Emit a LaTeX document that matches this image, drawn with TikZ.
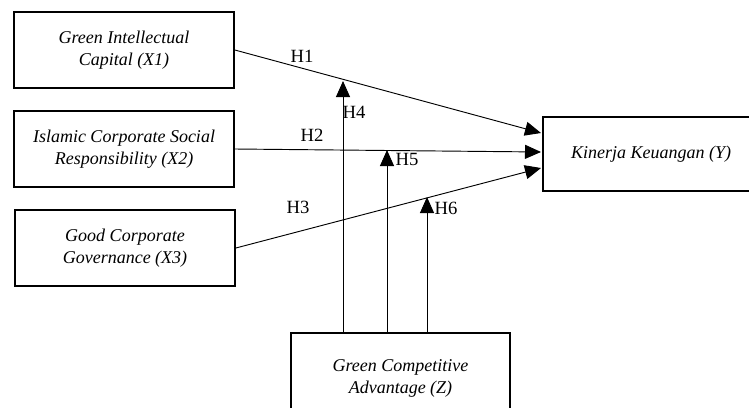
\documentclass[tikz,border=0pt]{standalone}
\usepackage{fontspec}
\setmainfont{Liberation Serif}
\usetikzlibrary{arrows.meta}

\begin{document}
\begin{tikzpicture}[x=0.75pt,y=0.75pt,yscale=-1,xscale=1,
  varbox/.style={draw, line width=1.3pt, minimum width=165pt, minimum height=57pt, inner sep=0pt, align=center, font=\fontsize{13.5}{16.5}\selectfont\itshape},
  hyparrow/.style={line width=0.7pt, -{Triangle[length=12pt,width=10.5pt]}},
  hlabel/.style={font=\fontsize{14}{16}\selectfont, inner sep=0pt}]
\useasboundingbox (0,0) rectangle (749,407);

%Shape: Rectangle [id:x1] 
\node [varbox] (x1) at (124,50) {Green Intellectual\\Capital (X1)};
%Shape: Rectangle [id:x2] 
\node [varbox] (x2) at (124,149) {Islamic Corporate Social\\Responsibility (X2)};
%Shape: Rectangle [id:x3] 
\node [varbox] (x3) at (125,248) {Good Corporate\\Governance (X3)};
%Shape: Rectangle [id:y] 
\node [varbox, minimum width=162pt, minimum height=55.5pt] (y) at (651,154) {Kinerja Keuangan (Y)};
%Shape: Rectangle [id:z] 
\node [varbox, minimum width=164pt, minimum height=67.5pt] (z) at (400.5,378) {Green Competitive\\Advantage (Z)};

% arrow tips
\coordinate (y1) at (541,133);
\coordinate (y2) at (541,152);
\coordinate (y3) at (541,168);
\coordinate (t4) at (343,81);
\coordinate (t5) at (387,150);
\coordinate (t6) at (427,197);

%Straight Lines [id:h1] 
\draw [hyparrow] (x1.east) -- (y1);
%Straight Lines [id:h2] 
\draw [hyparrow] (x2.east) -- (y2);
%Straight Lines [id:h3] 
\draw [hyparrow] (x3.east) -- (y3);
%Straight Lines [id:h4] 
\draw [hyparrow] (z.north -| t4) -- (t4);
%Straight Lines [id:h5] 
\draw [hyparrow] (z.north -| t5) -- (t5);
%Straight Lines [id:h6] 
\draw [hyparrow] (z.north -| t6) -- (t6);

% Text Node
\draw (302,56) node [hlabel] (l1) {H1};
% Text Node
\draw (312,135) node [hlabel] (l2) {H2};
% Text Node
\draw (298,207) node [hlabel] (l3) {H3};
% Text Node
\draw (354,112) node [hlabel] (l4) {H4};
% Text Node
\draw (407,159) node [hlabel] (l5) {H5};
% Text Node
\draw (446,208) node [hlabel] (l6) {H6};

\end{tikzpicture}
\end{document}
